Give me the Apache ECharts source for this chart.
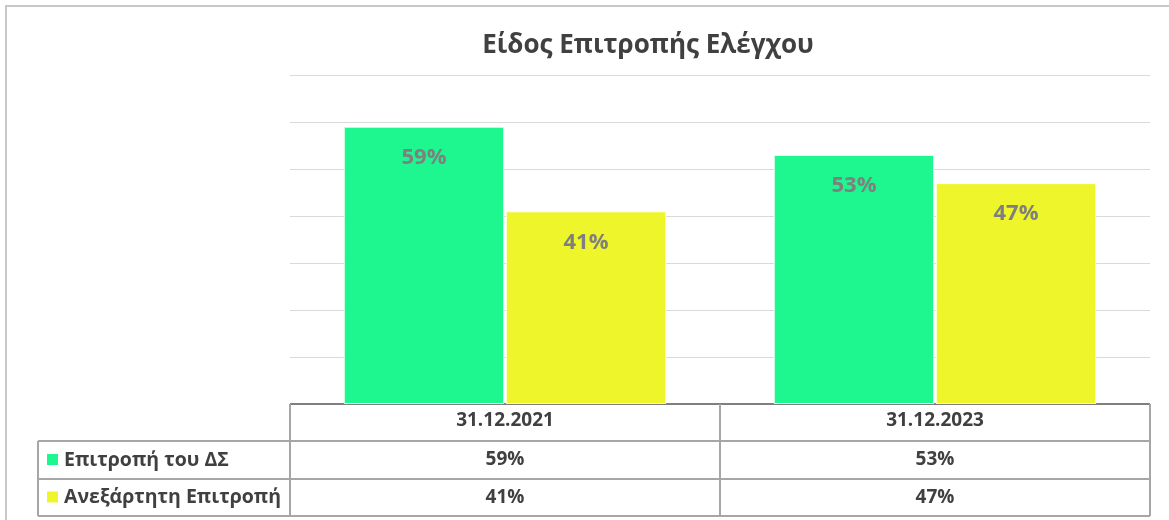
<!DOCTYPE html>
<html>
<head>
<meta charset="utf-8">
<script src="https://cdn.jsdelivr.net/npm/echarts@6/dist/echarts.min.js"></script>
<style>
  html, body { margin: 0; padding: 0; background: #fff; }
  #chart { width: 1169px; height: 520px; }
</style>
</head>
<body>
<div id="chart"></div>
<script>
var titleText = 'Είδος Επιτροπής Ελέγχου';
var categories = ['31.12.2021', '31.12.2023'];
var seriesNames = ['Επιτροπή του ΔΣ', 'Ανεξάρτητη Επιτροπή'];
var boardValues = [59, 53];
var independentValues = [41, 47];
var seriesColors = ['#1ef78f', '#eef52a'];

var font = 'Open Sans';
var textColor = '#404040';
var lineColor = '#a6a6a6';

var chart = echarts.init(document.getElementById('chart'));

var option = {
    backgroundColor: '#fff',
    animation: false,
    title: {
        text: titleText,
        left: 643,
        textAlign: 'center',
        top: 28,
        textStyle: { fontFamily: font, fontSize: 26, fontWeight: 'bold', color: textColor }
    },
    grid: { left: 290, right: 19, top: 75, bottom: 116 },
    xAxis: {
        type: 'category',
        data: categories,
        axisLine: { show: false },
        axisTick: { show: false },
        axisLabel: {
            margin: 7,
            fontFamily: font, fontSize: 19, fontWeight: 'bold', color: textColor
        }
    },
    yAxis: {
        type: 'value',
        min: 0,
        max: 70,
        interval: 10,
        axisLabel: { show: false },
        axisLine: { show: false },
        axisTick: { show: false },
        splitLine: { lineStyle: { color: '#d9d9d9', width: 1 } }
    },
    series: [
        {
            name: seriesNames[0],
            type: 'bar',
            data: boardValues,
            barGap: '1%',
            barCategoryGap: '25%',
            itemStyle: { color: seriesColors[0], borderColor: '#e8fff2', borderWidth: 1 },
            label: {
                show: true, position: 'insideTop', distance: 20,
                formatter: '{c}%',
                fontFamily: font, fontSize: 22, fontWeight: 'bold', color: '#7f7f7f'
            }
        },
        {
            name: seriesNames[1],
            type: 'bar',
            data: independentValues,
            itemStyle: { color: seriesColors[1], borderColor: '#fdffe8', borderWidth: 1 },
            label: {
                show: true, position: 'insideTop', distance: 20,
                formatter: '{c}%',
                fontFamily: font, fontSize: 22, fontWeight: 'bold', color: '#7f7f7f'
            }
        }
    ]
};
chart.setOption(option);

// data table under the plot
var tableLeft = 38, plotLeft = 290, plotRight = 1150;
var rowLines = [404, 441, 479, 516];
var rowValues = [boardValues, independentValues];
var els = [];

function hLine(x1, x2, y, color, w) {
    els.push({ type: 'line', shape: { x1: x1, y1: y, x2: x2, y2: y }, style: { stroke: color, lineWidth: w } });
}
function vLine(x, y1, y2, color) {
    els.push({ type: 'line', shape: { x1: x, y1: y1, x2: x, y2: y2 }, style: { stroke: color || lineColor, lineWidth: 2 } });
}

// outer chart frame (top and left)
hLine(5, 1169, 6, '#c8c8c8', 2);
vLine(6, 6, 520, '#c8c8c8');

hLine(plotLeft, plotRight, rowLines[0], '#7f7f7f', 2);
for (var r = 1; r < rowLines.length; r++) {
    hLine(tableLeft, plotRight, rowLines[r], lineColor, 2);
}
vLine(tableLeft, rowLines[1], rowLines[3]);
vLine(plotLeft, rowLines[0], rowLines[3]);
var c0 = chart.convertToPixel({ xAxisIndex: 0 }, categories[0]);
var c1 = chart.convertToPixel({ xAxisIndex: 0 }, categories[1]);
vLine((c0 + c1) / 2, rowLines[0], rowLines[3]);
vLine(plotRight, rowLines[0], rowLines[3]);

for (var s = 0; s < seriesNames.length; s++) {
    var yMid = (rowLines[s + 1] + rowLines[s + 2]) / 2;
    els.push({ type: 'rect', shape: { x: 47, y: yMid - 6, width: 11, height: 11 }, style: { fill: seriesColors[s] } });
    els.push({
        type: 'text', x: 64, y: yMid,
        style: { text: seriesNames[s], fill: textColor, font: 'bold 19.5px "' + font + '"', verticalAlign: 'middle' }
    });
    for (var c = 0; c < categories.length; c++) {
        els.push({
            type: 'text',
            x: chart.convertToPixel({ xAxisIndex: 0 }, categories[c]),
            y: yMid,
            style: {
                text: rowValues[s][c] + '%', fill: textColor,
                font: 'bold 19px "' + font + '"', align: 'center', verticalAlign: 'middle'
            }
        });
    }
}
chart.setOption({ graphic: { elements: els } });
</script>
</body>
</html>
